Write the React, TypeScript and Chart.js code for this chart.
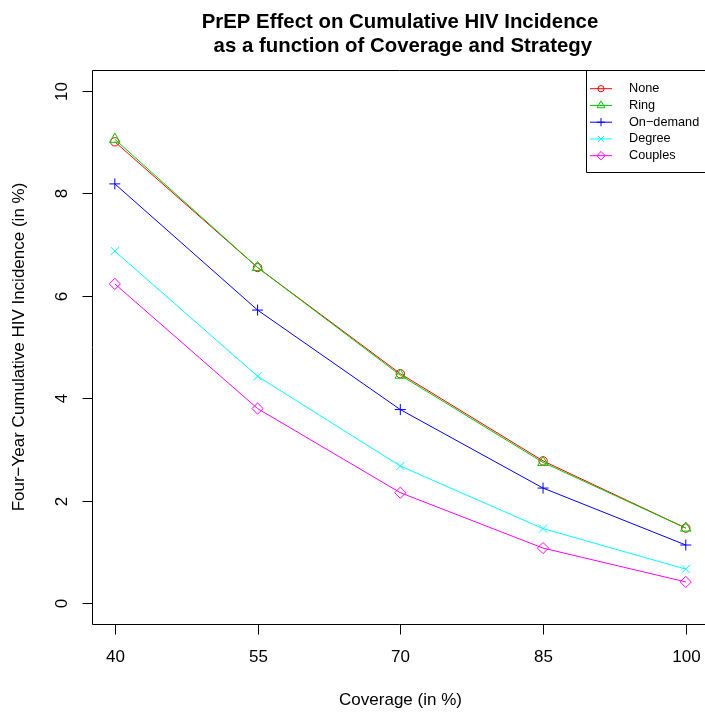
import React, { useEffect, useRef } from "react";
import { Chart, registerables } from "chart.js";

Chart.register(...registerables);

// ---- data ----
const coverage = [40, 55, 70, 85, 100];
const xTicks = [40, 55, 70, 85, 100];
const yTicks = [0, 2, 4, 6, 8, 10];
const seriesNames = ["None", "Ring", "On\u2212demand", "Degree", "Couples"];
const noneValues = [9.0, 6.55, 4.48, 2.78, 1.47];
const ringValues = [9.05, 6.55, 4.45, 2.75, 1.47];
const onDemandValues = [8.18, 5.72, 3.78, 2.25, 1.14];
const degreeValues = [6.87, 4.43, 2.68, 1.46, 0.67];
const couplesValues = [6.23, 3.8, 2.16, 1.08, 0.42];
const titleLines = [
  "PrEP Effect on Cumulative HIV Incidence",
  " as a function of Coverage and Strategy",
];
const xTitle = "Coverage (in %)";
const yTitle = "Four\u2212Year Cumulative HIV Incidence (in %)";

// ---- styles ----
const seriesValues = [noneValues, ringValues, onDemandValues, degreeValues, couplesValues];
const colors = ["#FF0000", "#00CD00", "#0000FF", "#00FFFF", "#FF00FF"];
const pointStyles = ["circle", "triangle", "cross", "crossRot", "rectRot"];
const pointRadii = [4.2, 6.1, 5.5, 5.7, 5.6];
const FONT = '"Liberation Sans", Arial, Helvetica, sans-serif';

function drawMarker(ctx: CanvasRenderingContext2D, style: string, x: number, y: number, r: number) {
  ctx.beginPath();
  if (style === "circle") {
    ctx.arc(x, y, r, 0, Math.PI * 2);
  } else if (style === "triangle") {
    for (let i = 0; i < 3; i++) {
      const a = (i * 2 * Math.PI) / 3;
      const px = x + Math.sin(a) * r;
      const py = y - Math.cos(a) * r;
      if (i === 0) ctx.moveTo(px, py);
      else ctx.lineTo(px, py);
    }
    ctx.closePath();
  } else if (style === "cross") {
    ctx.moveTo(x - r, y);
    ctx.lineTo(x + r, y);
    ctx.moveTo(x, y - r);
    ctx.lineTo(x, y + r);
  } else if (style === "crossRot") {
    const d = r * Math.SQRT1_2;
    ctx.moveTo(x - d, y - d);
    ctx.lineTo(x + d, y + d);
    ctx.moveTo(x + d, y - d);
    ctx.lineTo(x - d, y + d);
  } else if (style === "rectRot") {
    ctx.moveTo(x, y - r);
    ctx.lineTo(x + r, y);
    ctx.lineTo(x, y + r);
    ctx.lineTo(x - r, y);
    ctx.closePath();
  }
  ctx.stroke();
}

const rPlotPlugin = {
  id: "rPlot",
  afterDraw(chart: any) {
    const ctx: CanvasRenderingContext2D = chart.ctx;
    const area = chart.chartArea;
    const xs = chart.scales.x;
    const ys = chart.scales.y;
    const L = Math.floor(area.left) + 0.5;
    const T = Math.floor(area.top) + 0.5;
    const B = Math.floor(area.bottom) + 0.5;
    const R = 720;
    ctx.save();
    ctx.strokeStyle = "#000";
    ctx.lineWidth = 1;
    // box
    ctx.beginPath();
    ctx.moveTo(R, T);
    ctx.lineTo(L, T);
    ctx.lineTo(L, B);
    ctx.lineTo(R, B);
    ctx.stroke();

    ctx.fillStyle = "#000";
    // x ticks
    ctx.font = `17px ${FONT}`;
    ctx.textAlign = "center";
    ctx.textBaseline = "alphabetic";
    xTicks.forEach((v) => {
      const px = Math.round(xs.getPixelForValue(v)) + 0.5;
      ctx.beginPath();
      ctx.moveTo(px, B);
      ctx.lineTo(px, B + 10);
      ctx.stroke();
      ctx.fillText(String(v), px, 662);
    });
    // y ticks
    yTicks.forEach((v) => {
      const py = Math.round(ys.getPixelForValue(v)) + 0.5;
      ctx.beginPath();
      ctx.moveTo(L, py);
      ctx.lineTo(L - 10, py);
      ctx.stroke();
      ctx.save();
      ctx.translate(67, py);
      ctx.rotate(-Math.PI / 2);
      ctx.fillText(String(v), 0, 0);
      ctx.restore();
    });
    // axis titles
    ctx.fillText(xTitle, (area.left + 709) / 2, 705);
    ctx.save();
    ctx.translate(24, (area.top + area.bottom) / 2);
    ctx.rotate(-Math.PI / 2);
    ctx.fillText(yTitle, 0, 0);
    ctx.restore();
    // main title
    ctx.font = `bold 20.4px ${FONT}`;
    ctx.fillText(titleLines[0], 400, 28);
    ctx.fillText(titleLines[1], 400, 52);

    // legend
    const lx = 586.5;
    const lt = T;
    const lb = 172.5;
    ctx.beginPath();
    ctx.moveTo(R, lb);
    ctx.lineTo(lx, lb);
    ctx.lineTo(lx, lt);
    ctx.stroke();
    ctx.font = `12.7px ${FONT}`;
    ctx.textAlign = "left";
    ctx.textBaseline = "middle";
    seriesNames.forEach((name, i) => {
      const y = 88.7 + i * 16.75;
      ctx.strokeStyle = colors[i];
      ctx.beginPath();
      ctx.moveTo(590, y);
      ctx.lineTo(612, y);
      ctx.stroke();
      drawMarker(ctx, pointStyles[i], 601, y, pointRadii[i] * 0.75);
      ctx.fillStyle = "#000";
      ctx.fillText(name, 629, y);
    });
    ctx.restore();
  },
};

export default function App() {
  const ref = useRef<HTMLCanvasElement | null>(null);
  useEffect(() => {
    if (!ref.current) return;
    const datasets = seriesNames.map((name, i) => ({
      label: name,
      data: coverage.map((c, j) => ({ x: c, y: seriesValues[i][j] })),
      borderColor: colors[i],
      borderWidth: 1,
      pointStyle: pointStyles[i],
      pointRadius: pointRadii[i],
      pointHoverRadius: pointRadii[i],
      pointBorderColor: colors[i],
      pointBackgroundColor: "rgba(0,0,0,0)",
      pointBorderWidth: 1,
      fill: false,
      tension: 0,
      order: seriesNames.length - i,
    }));
    const chart = new Chart(ref.current, {
      type: "line",
      data: { datasets },
      options: {
        animation: false,
        responsive: false,
        devicePixelRatio: 1,
        layout: { autoPadding: false, padding: { left: 92, top: 70, right: 0, bottom: 91 } },
        plugins: { legend: { display: false }, tooltip: { enabled: false }, title: { display: false } },
        events: [],
        scales: {
          x: { type: "linear", min: 37.6, max: 102.02, display: false },
          y: { type: "linear", min: -0.4, max: 10.4, display: false },
        },
      },
      plugins: [rPlotPlugin],
    });
    return () => chart.destroy();
  }, []);
  return (
    <div style={{ position: "absolute", left: 0, top: 0, width: 705, height: 715, background: "#fff" }}>
      <canvas ref={ref} width={705} height={715} style={{ display: "block" }} />
    </div>
  );
}
